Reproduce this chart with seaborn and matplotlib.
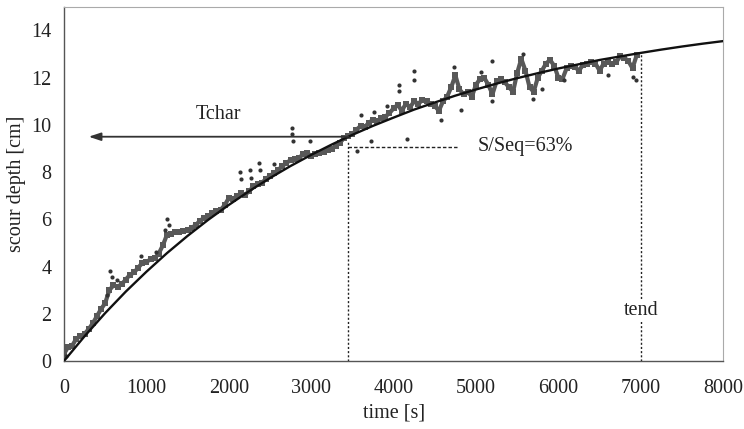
import numpy as np
import pandas as pd
import matplotlib
matplotlib.use("Agg")
import matplotlib.pyplot as plt
import seaborn as sns

# ---- data ----
meas_t = list(range(0, 7000, 50))
meas_s = [0.3, 0.6, 0.65, 0.95, 1.05, 1.15, 1.35, 1.6, 1.9, 2.2,
          2.45, 3.0, 3.2, 3.15, 3.25, 3.45, 3.65, 3.75, 3.95, 4.15,
          4.2, 4.3, 4.35, 4.55, 4.9, 5.35, 5.4, 5.45, 5.45, 5.5,
          5.55, 5.65, 5.75, 5.95, 6.05, 6.15, 6.25, 6.35, 6.4, 6.6,
          6.9, 6.85, 7.0, 7.1, 7.05, 7.2, 7.4, 7.5, 7.55, 7.7,
          7.85, 7.95, 8.1, 8.25, 8.4, 8.5, 8.55, 8.6, 8.75, 8.8,
          8.7, 8.75, 8.8, 8.85, 8.95, 9.0, 9.1, 9.25, 9.45, 9.55,
          9.6, 9.8, 9.95, 9.9, 10.1, 10.2, 10.15, 10.3, 10.35, 10.5,
          10.7, 10.85, 10.6, 10.9, 10.75, 11.0, 10.9, 11.05, 11.0, 10.9,
          10.8, 10.6, 11.0, 11.2, 11.6, 12.1, 11.5, 11.3, 11.4, 11.2,
          11.7, 11.95, 12.0, 11.7, 11.3, 11.85, 11.95, 11.8, 11.6, 11.4,
          12.2, 12.8, 12.3, 11.6, 11.4, 12.0, 12.3, 12.6, 12.75, 12.5,
          12.0, 11.95, 12.4, 12.5, 12.45, 12.3, 12.55, 12.6, 12.65, 12.6,
          12.3, 12.6, 12.65, 12.6, 12.65, 12.9, 12.85, 12.7, 12.4, 12.95]

spike_t = [20, 520, 560, 580, 640, 940, 1120, 1230, 1256, 1270, 2140, 2150,
           2261, 2270, 2362, 2380, 2545, 2768, 2770, 2780, 2990, 3560, 3600,
           3720, 3760, 3920, 4064, 4070, 4166, 4247, 4250, 4572, 4734, 4815,
           5058, 5199, 5200, 5565, 5690, 5800, 6070, 6600, 6900, 6940]
spike_s = [0.2, 2.8, 3.8, 3.55, 3.45, 4.45, 4.6, 5.55, 6.0, 5.75, 8.0, 7.7,
           8.1, 7.75, 8.4, 8.1, 8.35, 9.85, 9.6, 9.3, 9.3, 8.9, 10.4,
           9.3, 10.55, 10.8, 11.7, 11.45, 9.4, 12.3, 11.9, 10.2, 12.45, 10.65,
           12.25, 12.7, 11.0, 13.0, 11.1, 11.5, 11.9, 12.1, 12.05, 11.9]

fit_t = [0, 250, 500, 750, 1000, 1250, 1500, 1750, 2000, 2250, 2500, 2750,
         3000, 3250, 3500, 3750, 4000, 4250, 4500, 4750, 5000, 5250, 5500,
         5750, 6000, 6250, 6500, 6750, 7000, 7250, 7500, 7750, 8000]
fit_s = [0.0, 1.05, 2.03, 2.94, 3.78, 4.57, 5.30, 5.98, 6.61, 7.20, 7.75,
         8.26, 8.73, 9.17, 9.58, 9.96, 10.31, 10.65, 10.95, 11.24, 11.50,
         11.75, 11.98, 12.19, 12.39, 12.57, 12.75, 12.90, 13.05, 13.19,
         13.32, 13.44, 13.55]

t_char = 3450
s_char_arrow = 9.5
s_63 = 9.07
t_end = 7000

x_ticks = [0, 1000, 2000, 3000, 4000, 5000, 6000, 7000, 8000]
y_ticks = [0, 2, 4, 6, 8, 10, 12, 14]

sns.set_theme(style="white")
plt.rcParams["font.family"] = ["Liberation Serif", "DejaVu Serif"]

FS = 14.5
fig = plt.figure(figsize=(7.44, 4.29), dpi=100)
ax = fig.add_axes([0.086, 0.1585, 0.886, 0.8255])

meas = pd.DataFrame({"t": meas_t, "s": meas_s})
spk = pd.DataFrame({"t": spike_t, "s": spike_s})
fit = pd.DataFrame({"t": fit_t, "s": fit_s})

gray = "#585858"
sns.lineplot(data=meas, x="t", y="s", ax=ax, color=gray, lw=3.0, zorder=2)
sns.scatterplot(data=meas, x="t", y="s", ax=ax, color=gray, s=13,
                marker="s", linewidth=0, zorder=2)
sns.scatterplot(data=spk, x="t", y="s", ax=ax, color="#333333", s=9,
                marker="o", linewidth=0, zorder=2)
sns.lineplot(data=fit, x="t", y="s", ax=ax, color="#111111", lw=1.7, zorder=3)

# annotations
ax.annotate("", xy=(300, s_char_arrow), xytext=(t_char, s_char_arrow),
            arrowprops=dict(arrowstyle="-|>,head_length=0.6,head_width=0.2",
                            color="#333333", lw=1.3, shrinkA=0, shrinkB=0))
ax.text(1880, 10.45, "Tchar", ha="center", va="center", fontsize=FS,
        color="#222222")
ax.plot([t_char, t_char], [0, 9.3], ls=(0, (1.5, 1.5)), color="#222222", lw=1)
ax.plot([t_char, 4800], [s_63, s_63], ls=(0, (2.5, 1.5)), color="#222222", lw=1)
ax.text(5020, s_63, "S/Seq=63%", ha="left", va="center", fontsize=FS,
        color="#222222")
ax.plot([t_end, t_end], [0, 13.05], ls=(0, (1.5, 1.5)), color="#222222", lw=1)
ax.text(t_end, 2.15, "tend", ha="center", va="center", fontsize=FS,
        color="#222222",
        bbox=dict(facecolor="white", edgecolor="none", pad=1.5))

ax.set_xlim(0, 8000)
ax.set_ylim(0, 15)
ax.set_xticks(x_ticks)
ax.set_yticks(y_ticks)
ax.set_xticklabels([str(v) for v in x_ticks])
ax.set_yticklabels([str(v) for v in y_ticks])
ax.tick_params(axis="both", direction="out", length=3, width=0.8,
               color="#777777", labelsize=FS, labelcolor="#222222")
ax.tick_params(axis="x", pad=10)
ax.tick_params(axis="y", pad=6)
ax.set_xlabel("time [s]", fontsize=FS, color="#222222", labelpad=4)
ax.set_ylabel("scour depth [cm]", fontsize=FS, color="#222222", labelpad=4)

for side in ["left", "bottom"]:
    ax.spines[side].set_color("#555555")
    ax.spines[side].set_linewidth(1.0)
for side in ["top", "right"]:
    ax.spines[side].set_color("#aaaaaa")
    ax.spines[side].set_linewidth(0.8)
ax.grid(False)

fig.savefig("out.png", dpi=100)
